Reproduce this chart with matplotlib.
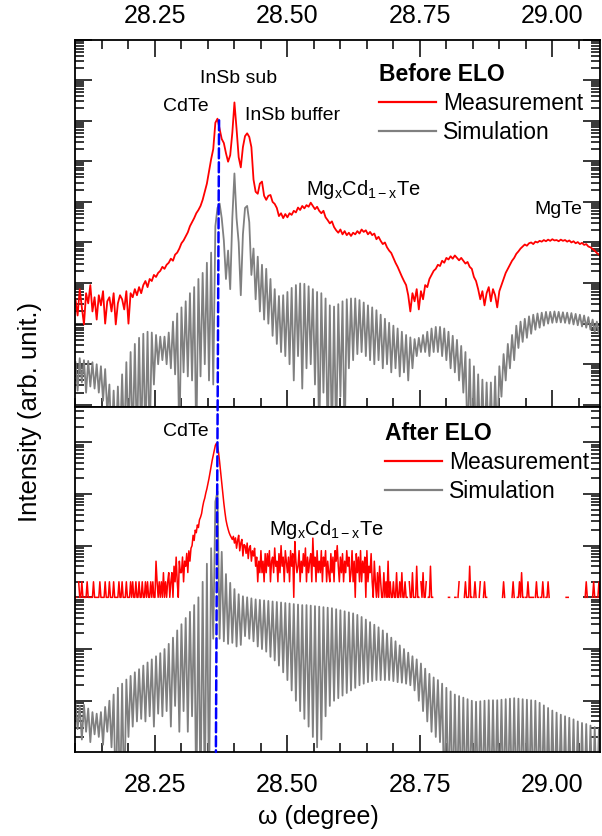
import numpy as np
import matplotlib
matplotlib.use("Agg")
import matplotlib.pyplot as plt
from matplotlib.ticker import LogLocator, MultipleLocator, NullFormatter, FixedLocator
from matplotlib.patches import ConnectionPatch

plt.rcParams["font.family"] = ["Liberation Sans", "DejaVu Sans"]
plt.rcParams["mathtext.fontset"] = "custom"
plt.rcParams["mathtext.rm"] = "Liberation Sans"
plt.rcParams["mathtext.it"] = "Liberation Sans:italic"

# ---- data (log10 of intensity, arb. units) ----
X0 = 28.10
STEP = 0.004      # grid of the simulation curves and the top measurement
STEP_CNT = 0.002  # grid of the bottom (count limited) measurement

top_meas_log = [
    2.60, 2.20, 2.85, 2.40, 1.98, 2.75, 2.50, 2.95, 2.30, 2.65,
    2.10, 2.70, 2.45, 2.80, 2.00, 2.55, 2.65, 2.30, 2.75, 1.98,
    2.50, 2.70, 2.60, 2.35, 2.80, 2.00, 2.75, 2.65, 2.85, 2.70,
    2.90, 2.75, 2.95, 3.05, 2.90, 3.10, 3.05, 3.20, 3.15, 3.25,
    3.30, 3.40, 3.35, 3.45, 3.50, 3.60, 3.55, 3.70, 3.75, 3.85,
    3.98, 4.05, 4.15, 4.25, 4.40, 4.50, 4.60, 4.72, 4.80, 4.90,
    5.05, 5.25, 5.45, 5.75, 6.05, 6.30, 6.95, 7.05, 6.80, 6.55,
    6.45, 6.20, 5.99, 6.15, 6.70, 7.45, 6.80, 6.10, 5.85, 6.35,
    6.62, 6.69, 6.60, 6.35, 5.55, 5.25, 5.20, 5.45, 5.50, 5.15,
    5.05, 5.15, 5.17, 5.00, 4.95, 4.85, 4.65, 4.72, 4.60, 4.70,
    4.62, 4.72, 4.68, 4.78, 4.74, 4.86, 4.80, 4.90, 4.84, 4.92,
    4.88, 4.98, 4.90, 4.82, 4.88, 4.78, 4.72, 4.78, 4.62, 4.55,
    4.47, 4.52, 4.38, 4.30, 4.24, 4.32, 4.20, 4.28, 4.18, 4.24,
    4.16, 4.24, 4.20, 4.28, 4.22, 4.32, 4.26, 4.30, 4.20, 4.26,
    4.18, 4.22, 4.08, 4.14, 4.04, 3.96, 4.00, 3.88, 3.80, 3.74,
    3.62, 3.50, 3.40, 3.28, 3.16, 3.05, 2.95, 2.70, 2.30, 2.75,
    2.55, 2.85, 2.35, 2.80, 2.60, 2.95, 2.90, 3.10, 3.20, 3.30,
    3.35, 3.45, 3.42, 3.55, 3.50, 3.62, 3.58, 3.66, 3.60, 3.68,
    3.62, 3.56, 3.62, 3.55, 3.48, 3.52, 3.40, 3.35, 3.15, 3.05,
    2.85, 2.60, 2.80, 2.45, 2.75, 2.90, 2.55, 2.85, 2.70, 2.40,
    2.80, 2.95, 3.10, 3.25, 3.35, 3.45, 3.55, 3.62, 3.72, 3.78,
    3.85, 3.90, 3.95, 3.92, 3.98, 4.00, 3.96, 4.02, 4.00, 4.04,
    4.02, 4.06, 4.03, 4.07, 4.04, 4.08, 4.05, 4.06, 4.03, 4.07,
    4.04, 4.06, 4.02, 4.05, 4.00, 4.03, 3.98, 4.01, 3.96, 3.99,
    3.94, 3.96, 3.90, 3.88, 3.84, 3.80, 3.74, 3.70, 3.65,
]

top_sim_log = [
    1.05, 0.35, 1.15, 0.55, 1.10, 0.30, 1.08, 0.45, 1.05, 0.40,
    1.00, 0.30, 0.95, 0.10, 0.88, -0.20, 0.50, -1, 0.35, -1,
    0.45, -1, 0.75, -1, 1.05, -1, 1.30, -1, 1.50, -1,
    1.65, -1, 1.75, -1, 1.80, -1, 1.78, 0.50, 1.72, 1.00,
    1.68, 1.10, 1.68, 1.00, 1.78, 0.90, 2.05, 0.75, 2.25, -1,
    2.40, 0.80, 2.55, 0.70, 2.75, 0.60, 2.90, -1, 3.10, 0.70,
    3.25, 1.00, 3.50, 0.60, 3.75, 0.50, 4.40, 4.85, 4.96, 4.60,
    4.05, 3.10, 3.80, 2.85, 4.60, 5.70, 4.60, 4.00, 2.70, 4.20,
    4.85, 4.90, 4.50, 3.20, 3.85, 2.60, 3.65, 2.30, 3.45, 2.10,
    3.35, 2.00, 3.10, 1.70, 2.85, 1.50, 2.68, 1.30, 2.70, 1.20,
    2.78, 1.00, 2.88, 0.60, 2.95, 1.20, 2.99, 0.40, 2.98, 0.90,
    2.92, 1.00, 2.85, 0.50, 2.78, -1, 2.75, 0.30, 2.62, -1,
    2.45, -1, 2.42, -1, 2.48, 0.20, 2.55, -1, 2.60, 0.90,
    2.62, 1.10, 2.62, 1.25, 2.58, 1.30, 2.52, 1.20, 2.45, 1.10,
    2.40, 1.00, 2.33, 1.10, 2.22, 0.90, 2.12, 1.00, 2.02, 0.80,
    1.95, 0.90, 1.88, 0.70, 1.80, 0.80, 1.72, 0.60, 1.66, 0.90,
    1.62, 1.20, 1.65, 1.30, 1.72, 1.30, 1.80, 1.20, 1.88, 1.30,
    1.92, 1.30, 1.92, 1.20, 1.88, 1.10, 1.80, 0.90, 1.70, 0.80,
    1.60, 0.60, 1.45, 0.30, 1.30, -1, 1.12, -1, 0.95, -1,
    0.75, -1, 0.62, -1, 0.55, -1, 0.55, -1, 0.70, -1,
    0.95, 0.20, 1.25, 0.60, 1.50, 0.90, 1.72, 1.10, 1.95, 1.40,
    2.05, 1.55, 2.12, 1.65, 2.18, 1.75, 2.22, 1.85, 2.25, 1.90,
    2.27, 1.95, 2.29, 2.00, 2.29, 2.02, 2.30, 2.03, 2.29, 2.03,
    2.28, 2.02, 2.27, 2.00, 2.26, 1.98, 2.24, 1.96, 2.22, 1.93,
    2.20, 1.90, 2.16, 1.85, 2.10, 1.80, 2.05, 1.75, 2.00,
]

bot_sim_log = [
    -0.05, -0.55, -0.10, -0.75, -0.08, -0.60, -0.15, -0.80, -0.22, -0.65,
    -0.25, -0.70, -0.22, -0.85, -0.12, -0.60, 0.00, -0.90, 0.12, -2,
    0.25, -2, 0.33, -2, 0.41, -0.70, 0.48, -0.50, 0.55, -0.40,
    0.61, -0.35, 0.68, -0.40, 0.74, -0.30, 0.80, -0.50, 0.86, -0.25,
    0.92, -0.30, 1.00, -0.20, 1.10, -0.50, 1.22, -0.10, 1.36, -0.60,
    1.48, -0.20, 1.60, -0.60, 1.72, -0.30, 1.85, -2, 2.00, -2,
    2.30, -2, 2.65, -2, 2.95, 1.20, 3.85, 4.05, 1.20, 2.88,
    1.15, 2.45, 1.10, 2.28, 1.12, 2.16, 1.05, 2.06, 1.08, 2.02,
    1.25, 2.00, 1.20, 1.98, 1.15, 1.96, 1.05, 1.95, 1.00, 1.94,
    0.95, 1.93, 0.85, 1.92, 0.78, 1.91, 0.68, 1.90, 0.55, 1.89,
    0.40, 1.88, 0.20, 1.87, 0.00, 1.86, -0.20, 1.85, -0.35, 1.85,
    -0.50, 1.84, -0.70, 1.83, -0.90, 1.82, -0.75, 1.81, -0.30, 1.80,
    -0.10, 1.79, 0.00, 1.77, 0.05, 1.75, 0.10, 1.73, 0.15, 1.71,
    0.20, 1.69, 0.25, 1.66, 0.30, 1.62, 0.33, 1.57, 0.36, 1.52,
    0.38, 1.47, 0.40, 1.42, 0.40, 1.36, 0.40, 1.30, 0.40, 1.22,
    0.38, 1.15, 0.36, 1.07, 0.35, 1.00, 0.33, 0.93, 0.30, 0.86,
    0.20, 0.80, 0.00, 0.72, -0.20, 0.62, -0.40, 0.52, -0.60, 0.45,
    -0.70, 0.40, -0.80, 0.33, -2, 0.25, -2, 0.18, -2, 0.12,
    -2, 0.09, -2, 0.06, -2, 0.03, -2, 0.00, -2, -0.02,
    -2, -0.01, -2, 0.00, -2, 0.01, -2, 0.01, -2, 0.01,
    -2, 0.02, -2, 0.03, -2, 0.04, -2, 0.05, -2, 0.04,
    -2, 0.03, -2, 0.02, -2, 0.01, -2, 0.00, -2, -0.04,
    -2, -0.09, -2, -0.14, -2, -0.19, -2, -0.23, -2, -0.27,
    -2, -0.30, -2, -0.33, -2, -0.36, -2, -0.40, -2, -0.43,
    -2, -0.45, -2, -0.48, -2, -0.51, -2, -0.54, -2,
]

# bottom measurement: detector counts (hex digit per point, 0 = no count),
# a log10 list around the CdTe peak, then counts again
bot_counts_left = (
    "1102112111" "1211111211" "1112111121" "1121112111" "1211211121"
    "1121211211" "2112112121" "1212115212" "1213121231" "2314262153"
)
bot_peak_log = [
    2.48, 2.78, 2.30, 2.70, 2.60, 2.85, 2.48, 2.90, 2.70, 2.95,
    3.00, 3.20, 3.10, 3.30, 3.25, 3.40, 3.35, 3.50, 3.55, 3.62,
    3.75, 3.85, 3.92, 4.02, 4.10, 4.20, 4.30, 4.42, 4.55, 4.65,
    4.75, 4.85, 4.94, 4.98, 4.92, 4.80, 4.62, 4.42, 4.20, 4.00,
    3.82, 3.65, 3.50, 3.40, 3.32, 3.25, 3.20, 3.16, 3.12, 3.18,
    3.05, 3.15, 2.95, 3.10, 3.20, 2.90, 3.05, 3.12, 2.80, 3.02,
    3.00, 2.85, 3.05, 2.75, 2.95, 3.00, 2.70, 2.90, 2.80, 2.95,
]
bot_counts_right = (
    "4625383527" "3748256394" "5273a46285" "3628471c53" "4825374926"
    "3572e46283" "5382648253" "2736285a42" "6372538462" "3825173628"
    "2536182437" "2152131421" "1312151211" "2113112131" "1211021131"
    "1141102131" "1201141100" "1000000000" "0011000011" "0120000121"
    "1141101210" "0120012110" "0000000000" "0001210000" "0012100112"
    "1311011211" "1110121101" "1210112100" "0000000000" "0001110000"
    "0000000000" "0121000012" "110121"
)
COUNT_LOG = 2.0  # one detector count sits on this decade

# CdTe reference line (degree, log10 intensity at its ends)
cdte_guide_x = (28.371, 28.365)
cdte_guide_log = (7.01, -0.99)


def counts_to_log(s):
    c = np.array([int(ch, 16) for ch in s], dtype=float)
    out = np.full(c.shape, np.nan)
    out[c > 0] = COUNT_LOG + np.log10(c[c > 0])
    return out


def grid(n, step):
    return np.round(X0 + step * np.arange(n), 4)


bot_meas_log = np.concatenate([counts_to_log(bot_counts_left),
                               np.array(bot_peak_log),
                               counts_to_log(bot_counts_right)])

x_sim = grid(len(top_sim_log), STEP)
x_top_meas = grid(len(top_meas_log), STEP)
x_bot_sim = grid(len(bot_sim_log), STEP)
x_bot_meas = grid(len(bot_meas_log), STEP_CNT)

RED = "#ff0000"
GRAY = "#808080"

fig = plt.figure(figsize=(6.02, 8.36), dpi=100)
ax1 = fig.add_axes([0.1254, 0.5135, 0.8713, 0.4392])
ax2 = fig.add_axes([0.1254, 0.1008, 0.8713, 0.4127])

l1s, = ax1.plot(x_sim, 10.0 ** np.array(top_sim_log), color=GRAY, lw=1.3)
l1m, = ax1.plot(x_top_meas, 10.0 ** np.array(top_meas_log), color=RED, lw=1.3)
l2s, = ax2.plot(x_bot_sim, 10.0 ** np.array(bot_sim_log), color=GRAY, lw=1.3)
l2m, = ax2.plot(x_bot_meas, 10.0 ** bot_meas_log, color=RED, lw=1.1)

ax1.set_ylim(10 ** -0.047, 10 ** 9.0)
ax2.set_ylim(10 ** -0.986, 10 ** 5.687)

for ax in (ax1, ax2):
    ax.set_yscale("log")
    ax.set_xlim(28.10, 29.09)
    ax.xaxis.set_major_locator(FixedLocator([28.25, 28.50, 28.75, 29.00]))
    ax.xaxis.set_minor_locator(MultipleLocator(0.05))
    ax.yaxis.set_major_locator(LogLocator(base=10, numticks=100))
    ax.yaxis.set_minor_locator(LogLocator(base=10, subs=np.arange(2, 10), numticks=100))
    ax.yaxis.set_minor_formatter(NullFormatter())
    ax.tick_params(which="both", direction="in", width=1.1, labelsize=18,
                   left=True, right=True, labelleft=False)
    ax.tick_params(which="major", length=12)
    ax.tick_params(which="minor", length=6.5)
    for sp in ax.spines.values():
        sp.set_linewidth(1.3)
    ax.xaxis.set_major_formatter(plt.FuncFormatter(lambda v, p: f"{v:.2f}"))

ax1.tick_params(axis="x", which="both", top=True, bottom=True,
                labeltop=True, labelbottom=False, pad=8)
ax2.tick_params(axis="x", which="both", top=False, bottom=True, pad=15)

ax2.set_xlabel("\u03c9 (degree)", fontsize=18, labelpad=3)
ax2.xaxis.set_label_coords((318 - 75.5) / 524.5, -0.155)
fig.text(0.05, 0.507, "Intensity (arb. unit.)", rotation=90, fontsize=18.5,
         ha="center", va="center")

# peak labels
mgcdte = r"Mg$_\mathregular{x}$Cd$_\mathregular{1-x}$Te"
ax1.text(28.308, 10 ** 7.34, "CdTe", fontsize=14, ha="center", va="center")
ax1.text(28.407, 10 ** 8.04, "InSb sub", fontsize=14, ha="center", va="center")
ax1.text(28.509, 10 ** 7.14, "InSb buffer", fontsize=14, ha="center", va="center")
ax1.text(28.644, 10 ** 5.30, mgcdte, fontsize=14.5, ha="center", va="center")
ax1.text(29.011, 10 ** 4.80, "MgTe", fontsize=14, ha="center", va="center")
ax2.text(28.308, 10 ** 5.20, "CdTe", fontsize=14, ha="center", va="center")
ax2.text(28.574, 10 ** 3.32, mgcdte, fontsize=14.5, ha="center", va="center")

for ax, title, anchor in ((ax1, "Before ELO", (0.578, 0.935)),
                          (ax2, "After ELO", (0.590, 0.955))):
    lines = ax.get_lines()
    leg = ax.legend([lines[1], lines[0]], ["Measurement", "Simulation"],
                    title=title, loc="upper left", bbox_to_anchor=anchor,
                    frameon=False, fontsize=16.5, handlelength=2.5,
                    handletextpad=0.3, labelspacing=0.25, borderpad=0,
                    borderaxespad=0, alignment="left",
                    title_fontproperties={"weight": "bold", "size": 16.5})
    for h in leg.get_lines():
        h.set_linewidth(1.6)

con = ConnectionPatch(xyA=(cdte_guide_x[0], 10 ** cdte_guide_log[0]), coordsA=ax1.transData,
                      xyB=(cdte_guide_x[1], 10 ** cdte_guide_log[1]), coordsB=ax2.transData,
                      color="#0000ff", lw=1.8, linestyle=(0, (4, 1.6)))
fig.add_artist(con)

fig.savefig("out.png", dpi=100)
